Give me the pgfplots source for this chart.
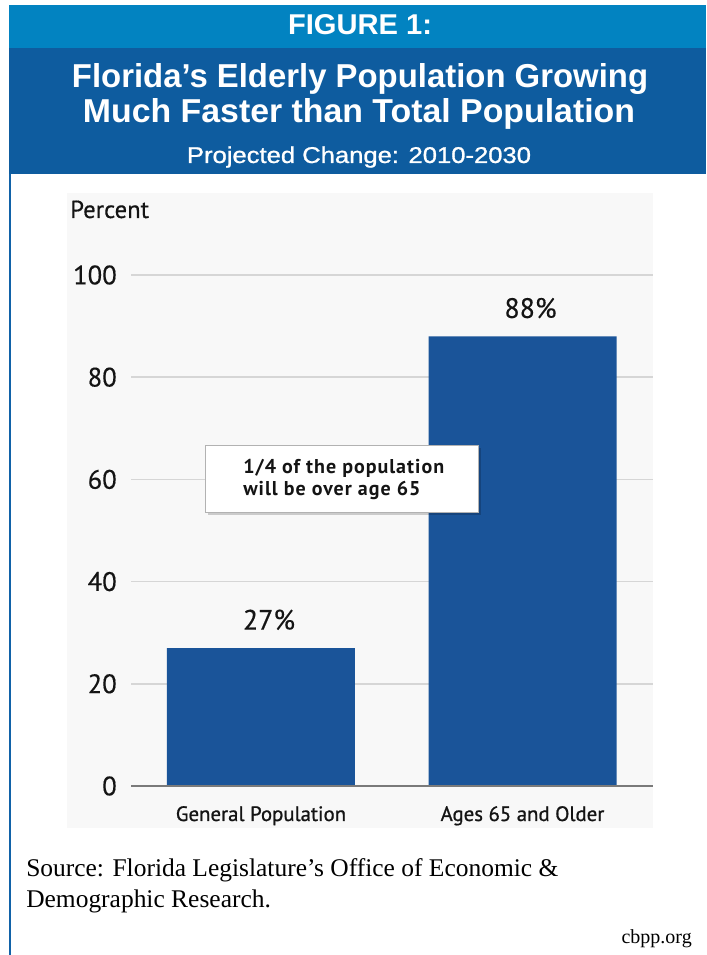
\documentclass[border=0pt]{standalone}
\usepackage{pgfplots}
\pgfplotsset{compat=1.18}
\usepackage{fontspec}
\setmainfont{Liberation Serif}
\newfontfamily\hdr[FakeStretch=0.82]{Liberation Sans}
\newfontfamily\hdrm[FakeStretch=0.82,FakeBold=0.9]{Liberation Sans}
\newfontfamily\chartf[FakeBold=0.4]{PT Sans}
\newfontfamily\chartm[FakeBold=0.9]{PT Sans}
\newfontfamily\chartb[LetterSpace=5]{PT Sans Bold}
\newlength\px \setlength\px{0.75pt}
\definecolor{lightband}{HTML}{0283C1}
\definecolor{darkband}{HTML}{0E5C9F}
\definecolor{edgeblue}{HTML}{1162A8}
\definecolor{barblue}{HTML}{1A5499}
\definecolor{gridgray}{HTML}{D6D6D6}
\definecolor{zerogray}{HTML}{7A7A7A}
\definecolor{panel}{HTML}{F8F8F8}
\definecolor{txt}{HTML}{141414}
\begin{document}
\begin{tikzpicture}[x=0.75pt,y=0.75pt]
\useasboundingbox (0,0) rectangle (706,955);
\fill[white] (0,0) rectangle (706,955);
% header
\fill[lightband] (9,950) rectangle (706,907);
\fill[darkband] (9,907) rectangle (706,781);
\fill[edgeblue] (9,781) rectangle (11,0);
\node[anchor=base, inner sep=0pt, text=white] at (360,920) {\resizebox{144\px}{20\px}{\hdr\bfseries FIGURE 1:}};
\node[anchor=base, inner sep=0pt, text=white] at (360,867) {\resizebox{576\px}{24\px}{\hdr\bfseries Florida’s Elderly Population Growing}};
\node[anchor=base, inner sep=0pt, text=white] at (359,832) {\resizebox{552\px}{24\px}{\hdr\bfseries Much Faster than Total Population}};
\node[anchor=base, inner sep=0pt, text=white] at (359,792) {\resizebox{344\px}{16.5\px}{\hdrm Projected Change: 2010-2030}};
% chart panel
\fill[panel] (67,762) rectangle (653,127);
\node[anchor=base west, inner sep=0pt, text=txt, font=\chartf\fontsize{18.5}{22}\selectfont] at (70,737) {Percent};
\begin{axis}[
  at={(98.25pt,126.75pt)}, anchor=south west,
  scale only axis, width=391.5pt, height=383.25pt,
  xmin=-0.497, xmax=1.499, ymin=0, ymax=100,
  clip=false,
  axis line style={draw=none},
  major tick length=0pt,
  ytick={0,20,40,60,80,100},
  xtick={0,1},
  xticklabels={General Population, Ages 65 and Older},
  /pgf/number format/assume math mode=true,
  ymajorgrids,
  grid style={gridgray, line width=1.2pt},
  yticklabel style={font=\chartf\fontsize{20}{24}\selectfont, text=txt, anchor=east, inner sep=0pt, xshift=-10.5pt},
  xticklabel style={font=\chartm\fontsize{15.6}{18}\selectfont, text=txt, anchor=base, inner sep=0pt, yshift=-26.25pt},
  nodes near coords={\pgfmathprintnumber{\pgfplotspointmeta}\%},
  nodes near coords align={anchor=base},
  every node near coord/.append style={font=\chartf\fontsize{21}{25}\selectfont, text=txt, inner sep=0pt, yshift=13.8pt, xshift=6pt},
]
\addplot[ybar, bar width=141pt, fill=barblue, draw=none] coordinates {(0,27) (1,88)};
\draw[zerogray, line width=1.3pt] (axis cs:-0.497,0) -- (axis cs:1.499,0);
\end{axis}
% annotation box
\fill[black, opacity=0.18] (208,507) rectangle (481,440);
\fill[white, draw=black!30, line width=0.6pt] (205,510) rectangle (478,443);
\node[anchor=base west, inner sep=0pt, text=txt, font=\chartb\fontsize{15}{18}\selectfont] at (243,481) {1/4 of the population};
\node[anchor=base west, inner sep=0pt, text=txt, font=\chartb\fontsize{15}{18}\selectfont] at (243,459) {will be over age 65};
% source
\node[anchor=base west, inner sep=0pt, font=\fontsize{19.1}{23}\selectfont] at (26,78) {Source: Florida Legislature’s Office of Economic \&};
\node[anchor=base west, inner sep=0pt, font=\fontsize{19.1}{23}\selectfont] at (26,47) {Demographic Research.};
\node[anchor=base east, inner sep=0pt, font=\fontsize{15}{18}\selectfont] at (692,12) {cbpp.org};
\end{tikzpicture}
\end{document}
